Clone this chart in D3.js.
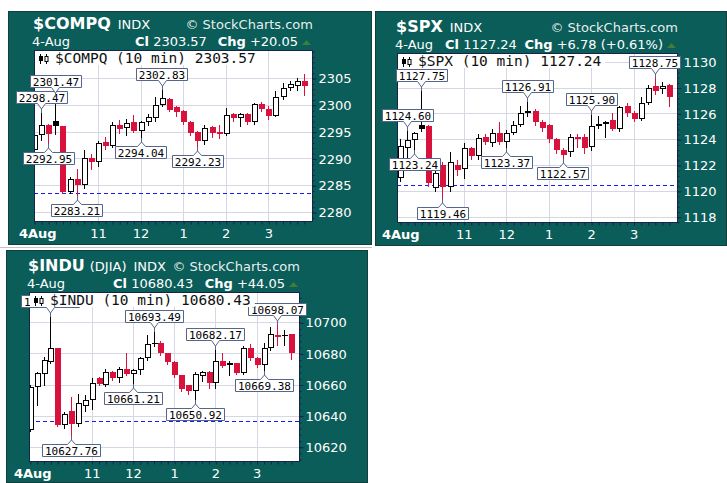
<!DOCTYPE html>
<html>
<head>
<meta charset="utf-8">
<script src="https://cdn.jsdelivr.net/npm/d3@7"></script>
<style>
  body { margin: 0; background: #fff; }
  svg { display: block; }
  .hdr { fill: #fff; font-family: "DejaVu Sans", sans-serif; font-size: 13px; }
  .axis text { fill: #fff; font-family: "DejaVu Sans", sans-serif; font-size: 13px; }
  .axis line { stroke: #16234a; }
  .axis path { display: none; }
  .mono { font-family: "DejaVu Sans Mono", monospace; }
</style>
</head>
<body>
<div id="chart"></div>
<script>
// 10 minute bars, 4 Aug (9:30 - 15:50)
var sessionStart = new Date(2010, 7, 4, 9, 30);
var sessionLast = new Date(2010, 7, 4, 15, 50);
var hourLabels = ["11", "12", "1", "2", "3"];

// $COMPQ
var compqOpen = [2291.6, 2294.4, 2296.2, 2296.9, 2296.0, 2283.8, 2286.2, 2285.0, 2290.0, 2289.4, 2293.0, 2292.4, 2296.3, 2295.6, 2296.8, 2295.2, 2296.8, 2297.6, 2300.0, 2301.0, 2299.5, 2298.8, 2296.8, 2295.0, 2293.3, 2295.8, 2295.0, 2294.6, 2298.2, 2297.6, 2298.2, 2296.8, 2300.2, 2299.2, 2298.0, 2301.4, 2303.1, 2303.6, 2304.5];
var compqHigh = [2295.0, 2298.47, 2296.4, 2301.47, 2296.0, 2286.5, 2288.0, 2291.6, 2290.8, 2293.2, 2294.0, 2296.8, 2297.2, 2297.4, 2298.1, 2297.0, 2298.3, 2301.5, 2302.83, 2301.3, 2299.8, 2299.0, 2297.0, 2295.2, 2296.2, 2296.0, 2296.2, 2299.4, 2298.5, 2298.4, 2298.5, 2300.4, 2300.5, 2299.8, 2302.5, 2304.1, 2304.5, 2305.0, 2305.8];
var compqLow = [2290.5, 2293.5, 2292.95, 2294.5, 2283.5, 2283.5, 2283.21, 2284.5, 2288.0, 2288.5, 2291.8, 2292.2, 2294.7, 2294.3, 2295.0, 2294.04, 2296.3, 2297.0, 2299.8, 2298.8, 2298.0, 2296.5, 2294.3, 2292.23, 2292.7, 2294.0, 2293.8, 2294.3, 2297.0, 2296.0, 2296.5, 2296.4, 2298.8, 2297.4, 2298.0, 2301.0, 2302.8, 2302.8, 2301.8];
var compqClose = [2294.4, 2296.2, 2294.6, 2296.0, 2283.8, 2286.2, 2285.0, 2290.1, 2289.4, 2292.9, 2292.4, 2296.2, 2295.5, 2296.6, 2295.2, 2296.7, 2297.8, 2300.0, 2301.3, 2299.0, 2298.6, 2296.8, 2294.7, 2293.3, 2295.7, 2294.8, 2294.6, 2298.1, 2297.6, 2298.2, 2296.7, 2300.1, 2299.2, 2298.0, 2301.5, 2303.2, 2303.8, 2304.5, 2303.57];
var compqPrevClose = 2283.52;
var compqTicks = [2280, 2285, 2290, 2295, 2300, 2305];
var compqHighLabels = [1, 3, 18];
var compqLowLabels = [2, 6, 15, 23];

// $SPX
var spxOpen = [1121.0, 1123.3, 1123.9, 1125.1, 1125.0, 1120.2, 1122.0, 1120.3, 1122.0, 1121.7, 1123.3, 1122.7, 1124.2, 1123.7, 1124.5, 1123.8, 1124.5, 1125.1, 1126.0, 1126.2, 1125.3, 1125.1, 1124.0, 1123.2, 1123.0, 1124.2, 1124.2, 1123.4, 1125.0, 1125.2, 1125.5, 1124.8, 1126.6, 1126.0, 1125.6, 1126.8, 1128.1, 1127.9, 1128.2];
var spxHigh = [1124.0, 1124.60, 1124.55, 1127.75, 1125.1, 1121.6, 1122.2, 1123.0, 1122.4, 1123.7, 1123.4, 1124.4, 1124.4, 1124.8, 1125.3, 1124.7, 1125.4, 1126.6, 1126.91, 1126.3, 1125.5, 1125.2, 1124.1, 1123.3, 1124.4, 1124.4, 1124.4, 1125.90, 1125.8, 1125.4, 1126.0, 1126.6, 1126.8, 1126.2, 1127.3, 1128.2, 1128.75, 1128.4, 1128.3];
var spxLow = [1120.8, 1122.6, 1123.24, 1124.6, 1120.4, 1120.0, 1119.46, 1120.0, 1121.2, 1121.0, 1122.5, 1122.5, 1123.6, 1123.45, 1123.6, 1123.37, 1124.4, 1125.0, 1125.8, 1125.1, 1124.6, 1123.8, 1122.9, 1122.57, 1122.7, 1123.4, 1122.9, 1123.2, 1124.9, 1124.2, 1124.7, 1124.6, 1125.8, 1125.4, 1125.5, 1126.7, 1127.5, 1127.6, 1126.6];
var spxClose = [1123.5, 1123.9, 1124.5, 1124.8, 1120.6, 1121.4, 1120.3, 1122.2, 1121.6, 1123.3, 1122.7, 1124.1, 1123.8, 1124.5, 1123.8, 1124.5, 1125.1, 1126.0, 1126.2, 1125.3, 1124.9, 1124.0, 1123.2, 1122.8, 1124.2, 1124.0, 1123.3, 1125.0, 1125.2, 1125.3, 1124.8, 1126.5, 1126.0, 1125.6, 1126.8, 1128.0, 1127.7, 1128.1, 1127.24];
var spxPrevClose = 1120.46;
var spxTicks = [1118, 1120, 1122, 1124, 1126, 1128, 1130];
var spxHighLabels = [1, 3, 18, 27, 36];
var spxLowLabels = [2, 6, 15, 23];

// $INDU
var induOpen = [10631, 10658.6, 10667, 10674.7, 10683.3, 10634, 10643, 10634.5, 10646, 10650, 10664.5, 10660, 10668.2, 10664.5, 10670.2, 10666.8, 10669.3, 10677.2, 10686.5, 10687, 10680, 10674.5, 10665.8, 10659.5, 10655.5, 10665.5, 10668, 10661, 10675.2, 10672.8, 10673.8, 10667.5, 10683.5, 10677, 10672.6, 10683.3, 10692, 10692, 10692.3];
var induHigh = [10660, 10668, 10678, 10703.4, 10683.3, 10642, 10652, 10654, 10653, 10664, 10665, 10670, 10669, 10671, 10680, 10670, 10678, 10692, 10693.49, 10688, 10680.5, 10675, 10666, 10660, 10668, 10668.5, 10668.5, 10682.17, 10680, 10675, 10674, 10685, 10686, 10678, 10687, 10697, 10698.07, 10695, 10692.5];
var induLow = [10630, 10646.8, 10660, 10674, 10633, 10632, 10627.76, 10633, 10643, 10644, 10659.5, 10659, 10663, 10661.5, 10666, 10661.21, 10667, 10676, 10685, 10679, 10673, 10665, 10656, 10654, 10650.92, 10662, 10658, 10658, 10671.5, 10666, 10666.5, 10667, 10676, 10671.5, 10669.38, 10682, 10685.5, 10685.5, 10676.4];
var induClose = [10658.6, 10667.2, 10675.8, 10683.3, 10634, 10641, 10634.5, 10648, 10650, 10661, 10660.5, 10668, 10664.5, 10670, 10666.8, 10669.3, 10677.2, 10685.8, 10686.0, 10680, 10674.3, 10666, 10657.3, 10655.5, 10666.6, 10667.8, 10661, 10675, 10672.2, 10674, 10667.5, 10683.3, 10677, 10672.6, 10683.3, 10692.3, 10690.5, 10691, 10680.43];
var induPrevClose = 10636.38;
var induTicks = [10620, 10640, 10660, 10680, 10700];
var induHighLabels = [3, 18, 27, 36];
var induLowLabels = [6, 15, 24, 34];

var TEAL = "#0b5d59";
var RED = "#d8123c";
var NAVY = "#16234a";

// panel layout (frame, plot box, first/last bar centre, two y references)
var panels = [
    { sym: "$COMPQ", sub: "", chg: "+20.05",
      open: compqOpen, high: compqHigh, low: compqLow, close: compqClose,
      prevClose: compqPrevClose, ticks: compqTicks, minor: 1,
      highLabels: compqHighLabels, lowLabels: compqLowLabels,
      frame: [8, 11, 372, 245], plot: [34, 50, 313, 222],
      xFirst: 34, xLast: 303.8, yRef: [2305, 78, 2280, 212], clX: 135 },
    { sym: "$SPX", sub: "", chg: "+6.78 (+0.61%)",
      open: spxOpen, high: spxHigh, low: spxLow, close: spxClose,
      prevClose: spxPrevClose, ticks: spxTicks, minor: 0.4,
      highLabels: spxHighLabels, lowLabels: spxLowLabels,
      frame: [375, 11, 727, 246], plot: [397, 53, 678, 223],
      xFirst: 400, xLast: 669, yRef: [1130, 61.7, 1118, 216.7], clX: 445 },
    { sym: "$INDU", sub: "(DJIA)", chg: "+44.05",
      open: induOpen, high: induHigh, low: induLow, close: induClose,
      prevClose: induPrevClose, ticks: induTicks, minor: 4,
      highLabels: induHighLabels, lowLabels: induLowLabels,
      frame: [6, 250, 368, 483], plot: [29, 292, 300, 462],
      xFirst: 29.8, xLast: 291, yRef: [10700, 322.3, 10620, 446.7], clX: 113 }
];

var barTimes = d3.timeMinute.every(10).range(sessionStart, d3.timeMinute.offset(sessionLast, 1));
var hourTimes = d3.timeHour.range(new Date(2010, 7, 4, 11), new Date(2010, 7, 4, 16));

var svg = d3.select("#chart")
    .append("svg")
    .attr("width", 727)
    .attr("height", 483);

svg.append("rect")
    .attr("width", 727)
    .attr("height", 483)
    .attr("fill", "#fff");

svg.append("line")
    .attr("x1", 0).attr("x2", 372)
    .attr("y1", 247.5).attr("y2", 247.5)
    .attr("stroke", "#c4c4c4");

panels.forEach(function(p, k) {
    drawPanel(p, k);
});

function crisp(v) {
    return Math.round(v) + 0.5;
}

function drawPanel(p, k) {
    var L = p.plot[0], T = p.plot[1], R = p.plot[2], B = p.plot[3];
    var g = svg.append("g");

    // STEP 1: frame and plot area
    g.append("rect")
        .attr("x", p.frame[0] + 0.5)
        .attr("y", p.frame[1] + 0.5)
        .attr("width", p.frame[2] - p.frame[0] - 1)
        .attr("height", p.frame[3] - p.frame[1] - 1)
        .attr("fill", TEAL)
        .attr("stroke", "#123f3c");

    g.append("rect")
        .attr("x", L).attr("y", T)
        .attr("width", R - L).attr("height", B - T)
        .attr("fill", "#fff");

    // STEP 2: scales
    var xScale = d3.scaleTime()
        .domain([barTimes[0], barTimes[barTimes.length - 1]])
        .range([p.xFirst, p.xLast]);

    var yScale = d3.scaleLinear()
        .domain([p.yRef[0], p.yRef[2]])
        .range([p.yRef[1], p.yRef[3]]);

    // grid
    g.append("g").selectAll("line")
        .data(p.ticks)
        .enter()
        .append("line")
        .attr("x1", L).attr("x2", R)
        .attr("y1", d => crisp(yScale(d)))
        .attr("y2", d => crisp(yScale(d)))
        .attr("stroke", "#d6d6e4");

    g.append("g").selectAll("line")
        .data(hourTimes)
        .enter()
        .append("line")
        .attr("x1", d => crisp(xScale(d)))
        .attr("x2", d => crisp(xScale(d)))
        .attr("y1", T).attr("y2", B)
        .attr("stroke", "#d6d6e4");

    // previous close
    g.append("line")
        .attr("x1", L).attr("x2", R)
        .attr("y1", crisp(yScale(p.prevClose)))
        .attr("y2", crisp(yScale(p.prevClose)))
        .attr("stroke", "#1a1aff")
        .attr("stroke-dasharray", "4,3");

    // STEP 3: candles
    g.append("clipPath")
        .attr("id", "clip" + k)
        .append("rect")
        .attr("x", L).attr("y", T)
        .attr("width", R - L).attr("height", B - T);

    var bars = barTimes.map(function(t, i) {
        var prev = i === 0 ? p.prevClose : p.close[i - 1];
        return {
            t: t, o: p.open[i], h: p.high[i], l: p.low[i], c: p.close[i],
            hollow: p.close[i] > p.open[i],
            color: p.close[i] < prev ? RED : "#000"
        };
    });

    var candles = g.append("g")
        .attr("clip-path", "url(#clip" + k + ")")
        .selectAll("g")
        .data(bars)
        .enter()
        .append("g");

    candles.append("line")
        .attr("x1", d => crisp(xScale(d.t)))
        .attr("x2", d => crisp(xScale(d.t)))
        .attr("y1", d => Math.round(yScale(d.h)))
        .attr("y2", d => Math.round(yScale(d.l)) + 1)
        .attr("stroke", d => d.color);

    candles.append("rect")
        .attr("x", d => d.hollow ? Math.round(xScale(d.t)) - 1.5 : Math.round(xScale(d.t)) - 2)
        .attr("y", function(d) {
            var top = Math.round(yScale(Math.max(d.o, d.c)));
            return d.hollow ? top + 0.5 : top;
        })
        .attr("width", d => d.hollow ? 5 : 6)
        .attr("height", function(d) {
            var hgt = Math.max(1, Math.round(yScale(Math.min(d.o, d.c))) - Math.round(yScale(Math.max(d.o, d.c))));
            return d.hollow ? Math.max(1, hgt - 1) : hgt;
        })
        .attr("fill", d => d.hollow ? "#fff" : d.color)
        .attr("stroke", d => d.hollow ? d.color : "none");

    // STEP 4: border and axes
    g.append("rect")
        .attr("x", L + 0.5).attr("y", T + 0.5)
        .attr("width", R - L - 1).attr("height", B - T - 1)
        .attr("fill", "none")
        .attr("stroke", NAVY);

    var minorTicks = d3.range(p.ticks[0] - 2 * p.ticks.length * p.minor, p.ticks[p.ticks.length - 1] + 10 * p.minor, p.minor)
        .filter(v => yScale(v) > T + 1 && yScale(v) < B - 1);

    g.append("g")
        .attr("class", "axis")
        .attr("transform", `translate(${R - 0.5}, 0.5)`)
        .call(d3.axisRight(yScale).tickValues(minorTicks).tickSize(2).tickFormat(""));

    g.append("g")
        .attr("class", "axis")
        .attr("transform", `translate(${R - 0.5}, 0.5)`)
        .call(d3.axisRight(yScale).tickValues(p.ticks).tickSize(4).tickPadding(2).tickFormat(d3.format("d")));

    g.append("g")
        .attr("class", "axis")
        .attr("transform", `translate(0.5, ${B - 0.5})`)
        .call(d3.axisBottom(xScale).tickValues(barTimes).tickSize(3).tickFormat(""));

    g.append("g").selectAll("text")
        .data(hourTimes)
        .enter()
        .append("text")
        .attr("class", "hdr")
        .attr("x", d => xScale(d) + 0.5)
        .attr("y", B + 16)
        .attr("text-anchor", "middle")
        .text((d, i) => hourLabels[i]);

    g.append("text")
        .attr("class", "hdr")
        .attr("x", L - 15)
        .attr("y", B + 16)
        .attr("font-weight", "bold")
        .text("4Aug");

    // STEP 5: high / low callouts
    p.highLabels.forEach(i => callout(g, xScale(barTimes[i]), yScale(p.high[i]), true, p.high[i].toFixed(2)));
    p.lowLabels.forEach(i => callout(g, xScale(barTimes[i]), yScale(p.low[i]), false, p.low[i].toFixed(2)));

    // STEP 6: legend inside plot
    var legend = g.append("g");
    var legendBox = legend.append("rect")
        .attr("x", L + 1).attr("y", T + 1)
        .attr("height", 14)
        .attr("fill", "#fff");

    legend.append("line")
        .attr("x1", L + 6.5).attr("x2", L + 6.5)
        .attr("y1", T + 4).attr("y2", T + 14)
        .attr("stroke", "#000");
    legend.append("rect")
        .attr("x", L + 5).attr("y", T + 6)
        .attr("width", 4).attr("height", 5)
        .attr("fill", "#000");
    legend.append("line")
        .attr("x1", L + 12.5).attr("x2", L + 12.5)
        .attr("y1", T + 4).attr("y2", T + 14)
        .attr("stroke", "#000");
    legend.append("rect")
        .attr("x", L + 11).attr("y", T + 6.5)
        .attr("width", 3).attr("height", 5)
        .attr("fill", "#fff")
        .attr("stroke", "#000");

    var legendText = legend.append("text")
        .attr("class", "mono")
        .attr("x", L + 21)
        .attr("y", T + 12.5)
        .attr("font-size", "14.5px")
        .attr("fill", "#111")
        .text(`${p.sym} (10 min) ${p.close[p.close.length - 1].toFixed(2)}`);

    legendBox.attr("width", legendText.node().getComputedTextLength() + 24);

    // STEP 7: header
    var line1 = g.append("text")
        .attr("class", "hdr")
        .attr("x", L - 1)
        .attr("y", T - 21);
    line1.append("tspan")
        .attr("font-weight", "bold")
        .attr("font-size", "16px")
        .text(p.sym);
    if (p.sub) {
        line1.append("tspan").attr("dx", 5).text(p.sub);
    }
    line1.append("tspan").attr("dx", 7).text("INDX");

    g.append("text")
        .attr("class", "hdr")
        .attr("x", R)
        .attr("y", T - 21)
        .attr("text-anchor", "end")
        .attr("fill-opacity", 0.92)
        .text("\u00a9 StockCharts.com");

    g.append("text")
        .attr("class", "hdr")
        .attr("x", L - 2)
        .attr("y", T - 4)
        .text("4-Aug");

    var cl = g.append("text")
        .attr("class", "hdr")
        .attr("x", p.clX)
        .attr("y", T - 4);
    cl.append("tspan").attr("font-weight", "bold").text("Cl");
    cl.append("tspan").text(" " + p.close[p.close.length - 1].toFixed(2));

    var chg = g.append("text")
        .attr("class", "hdr")
        .attr("x", R - 15)
        .attr("y", T - 4)
        .attr("text-anchor", "end");
    chg.append("tspan").attr("font-weight", "bold").text("Chg");
    chg.append("tspan").text(" " + p.chg);

    g.append("path")
        .attr("d", `M${R - 11},${T - 5}L${R - 2},${T - 5}L${R - 6.5},${T - 10}Z`)
        .attr("fill", "#3f7d3a");
}

function callout(g, cx, yv, isHigh, label) {
    var grp = g.append("g");
    var box = grp.append("path")
        .attr("fill", "#fff")
        .attr("stroke", "#56668a");
    var tip = grp.append("line")
        .attr("stroke", "#56668a");
    var txt = grp.append("text")
        .attr("class", "mono")
        .attr("font-size", "11px")
        .attr("fill", "#000")
        .attr("text-anchor", "middle")
        .text(label);

    var w = Math.round(txt.node().getComputedTextLength() + 5);
    var h = 12;
    var xc = crisp(cx);
    var x0 = Math.round(cx - w / 2) + 0.5;
    var x1 = x0 + w;
    var yr = Math.round(yv);
    var top;

    if (isHigh) {
        var bb = yr - 9.5;
        top = bb - h;
        box.attr("d", `M${x0},${top}H${x1}V${bb}H${xc + 4}L${xc},${yr - 4}L${xc - 4},${bb}H${x0}Z`);
        tip.attr("x1", xc).attr("x2", xc).attr("y1", yr - 4).attr("y2", yr);
    } else {
        top = yr + 9.5;
        box.attr("d", `M${x0},${top}H${xc - 4}L${xc},${yr + 5}L${xc + 4},${top}H${x1}V${top + h}H${x0}Z`);
        tip.attr("x1", xc).attr("x2", xc).attr("y1", yr + 1).attr("y2", yr + 5);
    }

    txt.attr("x", (x0 + x1) / 2).attr("y", top + 10);
}
</script>
</body>
</html>
